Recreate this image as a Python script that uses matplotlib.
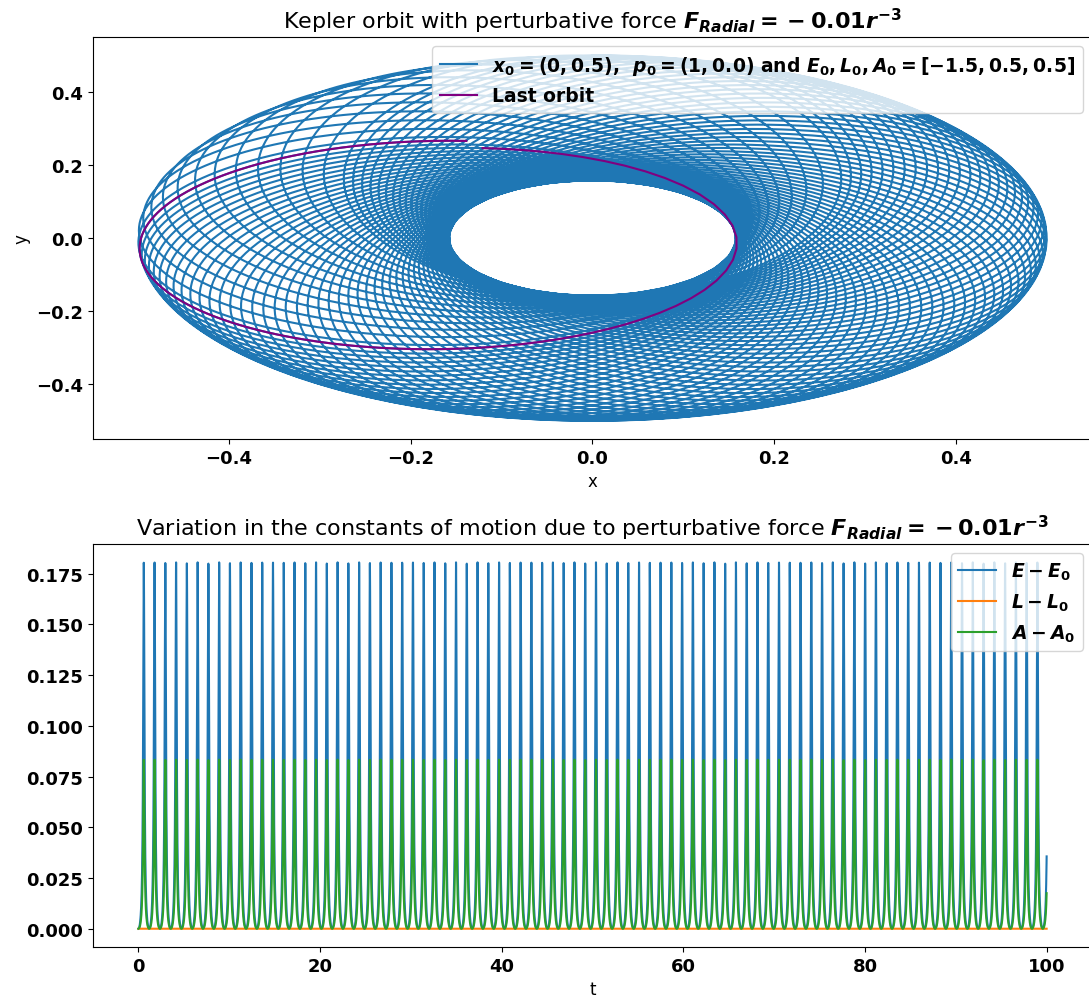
import numpy as np
import matplotlib
matplotlib.use("Agg")
import matplotlib.pyplot as plt

plt.rcParams['mathtext.fontset'] = 'custom'
plt.rcParams['mathtext.it'] = 'DejaVu Sans:italic:bold'
plt.rcParams['mathtext.rm'] = 'DejaVu Sans:bold'
plt.rcParams['mathtext.bf'] = 'DejaVu Sans:bold'

# initial conditions and perturbation strength
x0 = [0.0, 0.5]
p0 = [1.0, 0.0]
k_pert = -0.01
t_end = 100.0
dt = 1e-3
save_every = 10


def accel(x, y):
	r2 = x * x + y * y
	r = r2 ** 0.5
	# kepler + radial perturbation k*r^-3
	f = -1.0 / (r2 * r) + k_pert / (r2 * r2)
	return f * x, f * y


def integrate():
	x, y = x0
	px, py = p0
	n = int(round(t_end / dt))
	out = [(0.0, x, y, px, py)]
	for i in range(1, n + 1):
		ax1, ay1 = accel(x, y)
		ax2, ay2 = accel(x + 0.5 * dt * px, y + 0.5 * dt * py)
		vx2, vy2 = px + 0.5 * dt * ax1, py + 0.5 * dt * ay1
		ax3, ay3 = accel(x + 0.5 * dt * vx2, y + 0.5 * dt * vy2)
		vx3, vy3 = px + 0.5 * dt * ax2, py + 0.5 * dt * ay2
		ax4, ay4 = accel(x + dt * vx3, y + dt * vy3)
		vx4, vy4 = px + dt * ax3, py + dt * ay3
		x += dt / 6 * (px + 2 * vx2 + 2 * vx3 + vx4)
		y += dt / 6 * (py + 2 * vy2 + 2 * vy3 + vy4)
		px += dt / 6 * (ax1 + 2 * ax2 + 2 * ax3 + ax4)
		py += dt / 6 * (ay1 + 2 * ay2 + 2 * ay3 + ay4)
		if i % save_every == 0:
			out.append((i * dt, x, y, px, py))
	return np.array(out)


def constants(x, y, px, py):
	r = np.sqrt(x ** 2 + y ** 2)
	E = 0.5 * (px ** 2 + py ** 2) - 1.0 / r
	L = x * py - y * px
	# Runge-Lenz vector p x L - r_hat
	Ax = py * L - x / r
	Ay = -px * L - y / r
	A = np.sqrt(Ax ** 2 + Ay ** 2)
	return E, np.abs(L), A


sol = integrate()
t, xs, ys, pxs, pys = sol.T
E, L, A = constants(xs, ys, pxs, pys)

# last full turn in angle
theta = np.unwrap(np.arctan2(ys, xs))
last = theta <= theta[-1] + 2 * np.pi

fig = plt.figure(figsize=(10.89, 10.03), dpi=100)
ax_orb = fig.add_axes([0.0854, 0.5613, 0.9174, 0.4008])
ax_con = fig.add_axes([0.0854, 0.0548, 0.9174, 0.4018])

force = r'$F_{Radial} = {} - 0.01r^{-3}$'
lbl = r'$x_0 = (0, 0.5)$,  $p_0 = (1, 0.0)$ and $E_0, L_0, A_0 = [-1.5, 0.5, 0.5]$'
ax_orb.plot(xs, ys, lw=1.5, label=lbl)
ax_orb.plot(xs[last], ys[last], color='purple', lw=1.5, label='Last orbit')
ax_orb.set_title('Kepler orbit with perturbative force ' + force, fontsize=16)
ax_orb.set_xlabel('x', fontsize=12)
ax_orb.set_ylabel('y', fontsize=12)
ax_orb.legend(loc='upper right', prop={'weight': 'bold', 'size': 13.5})

ax_con.plot(t, E - E[0], lw=1.5, label=r'$E - E_0$')
ax_con.plot(t, L - L[0], lw=1.5, label=r'$L - L_0$')
ax_con.plot(t, A - A[0], lw=1.5, label=r'$A - A_0$')
ax_con.set_title('Variation in the constants of motion due to perturbative force ' + force, fontsize=16)
ax_con.set_xlabel('t', fontsize=12)
ax_con.legend(loc='upper right', prop={'weight': 'bold', 'size': 13.5})

for a in (ax_orb, ax_con):
	for lab in a.get_xticklabels() + a.get_yticklabels():
		lab.set_fontweight('bold')
		lab.set_fontsize(13)

fig.savefig('out.png', dpi=100)
